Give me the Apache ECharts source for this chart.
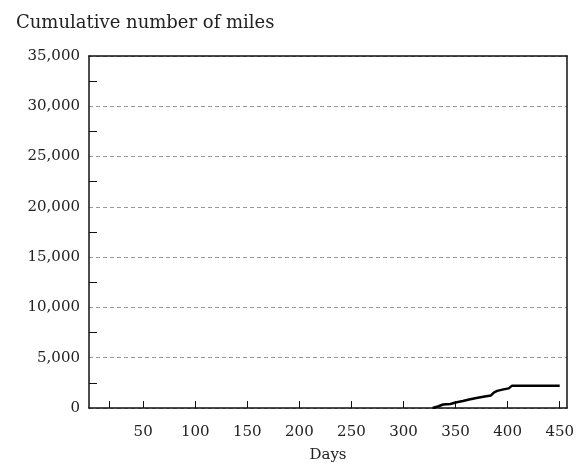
<!DOCTYPE html>
<html>
<head>
<meta charset="utf-8">
<script src="https://cdn.jsdelivr.net/npm/echarts@6/dist/echarts.min.js"></script>
<style>html,body{margin:0;padding:0;background:#fff;}#c{width:586px;height:467px;}</style>
</head>
<body>
<div id="c"></div>
<script>
var days  = [328, 333, 338, 345, 350, 357, 363, 370, 378, 384, 387, 390, 396, 401, 404, 450];
var miles = [0, 150, 350, 400, 550, 700, 850, 1000, 1150, 1250, 1550, 1700, 1850, 1950, 2200, 2200];
var xLabelValues = [50, 100, 150, 200, 250, 300, 350, 400, 450];
var xTickValues = [17, 50, 100, 150, 200, 250, 300, 350, 400, 450];

var font = 'DejaVu Serif';
var ink = '#111';
var chart = echarts.init(document.getElementById('c'), null, {renderer: 'canvas'});
chart.setOption({
  animation: false,
  title: {
    text: 'Cumulative number of miles',
    left: 11, top: 9,
    textStyle: {fontFamily: font, fontSize: 18, fontWeight: 'normal', color: '#222'}
  },
  grid: {left: 89, right: 19, top: 56, bottom: 59, show: false, containLabel: false, outerBoundsMode: 'none'},
  xAxis: [{
    type: 'value', min: -2, max: 457,
    name: 'Days', nameLocation: 'middle', nameGap: 40,
    nameTextStyle: {fontFamily: font, fontSize: 15, color: '#222'},
    axisLine: {onZero: false, lineStyle: {color: ink, width: 1.5}},
    axisTick: {show: true, inside: true, length: 7, customValues: xTickValues, lineStyle: {color: ink, width: 1}},
    axisLabel: {customValues: xLabelValues, margin: 17, fontFamily: font, fontSize: 15, color: '#222'},
    splitLine: {show: false}
  }, {
    type: 'value', min: -2, max: 457, position: 'top',
    axisLine: {show: true, onZero: false, lineStyle: {color: ink, width: 1.5}},
    axisTick: {show: false}, axisLabel: {show: false}, splitLine: {show: false}
  }],
  yAxis: [{
    type: 'value', min: 0, max: 35000, interval: 5000,
    axisLine: {show: true, onZero: false, lineStyle: {color: ink, width: 1.5}},
    axisTick: {show: true, inside: true, length: 0, lineStyle: {color: ink, width: 0}},
    minorTick: {show: true, splitNumber: 2, length: 8, lineStyle: {color: ink, width: 1}},
    axisLabel: {margin: 9, fontFamily: font, fontSize: 15, color: '#222',
      formatter: function (v) { return v.toLocaleString('en-US'); }},
    splitLine: {show: true, lineStyle: {color: '#999', type: [4, 3], width: 1}},
    minorSplitLine: {show: false}
  }, {
    type: 'value', min: 0, max: 35000, interval: 5000, position: 'right',
    axisLine: {show: true, onZero: false, lineStyle: {color: ink, width: 1.5}},
    axisTick: {show: false}, axisLabel: {show: false}, splitLine: {show: false}
  }],
  series: [{
    type: 'line',
    data: days.map(function (d, i) { return [d, miles[i]]; }),
    showSymbol: false,
    lineStyle: {color: '#000', width: 2.5},
    z: 5
  }]
});
</script>
</body>
</html>
